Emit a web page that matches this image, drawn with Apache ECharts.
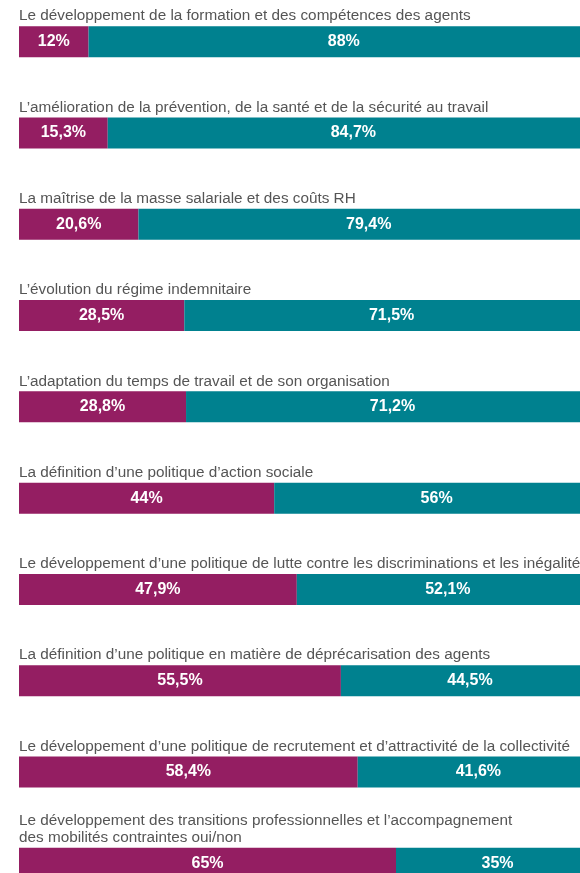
<!DOCTYPE html>
<html>
<head>
<meta charset="utf-8">
<style>
  html, body { margin: 0; padding: 0; background: #fff; }
  #chart { width: 580px; height: 873px; }
</style>
<script src="https://cdn.jsdelivr.net/npm/echarts@6/dist/echarts.min.js"></script>
</head>
<body>
<div id="chart"></div>
<script>
// thèmes (titres au-dessus de chaque barre)
var themes = [
  'Le développement de la formation et des compétences des agents',
  'L\u2019amélioration de la prévention, de la santé et de la sécurité au travail',
  'La maîtrise de la masse salariale et des coûts RH',
  'L\u2019évolution du régime indemnitaire',
  'L\u2019adaptation du temps de travail et de son organisation',
  'La définition d\u2019une politique d\u2019action sociale',
  'Le développement d\u2019une politique de lutte contre les discriminations et les inégalités',
  'La définition d\u2019une politique en matière de déprécarisation des agents',
  'Le développement d\u2019une politique de recrutement et d\u2019attractivité de la collectivité',
  'Le développement des transitions professionnelles et l\u2019accompagnement\ndes mobilités contraintes oui/non'
]
var partA = [12, 15.3, 20.6, 28.5, 28.8, 44, 47.9, 55.5, 58.4, 65]
var partB = [88, 84.7, 79.4, 71.5, 71.2, 56, 52.1, 44.5, 41.6, 35]

var chart = echarts.init(document.getElementById('chart'))

function pct(p) {
  return String(p.value).replace('.', ',') + '%'
}

var barLabel = {
  show: true,
  position: 'inside',
  color: '#fff',
  fontWeight: 'bold',
  fontSize: 16,
  fontFamily: "'Liberation Sans Narrow', 'Arial Narrow', 'Liberation Sans', Arial, sans-serif",
  formatter: pct
}

chart.setOption({
  animation: false,
  grid: {
    left: 19,
    top: -4,
    width: 580,
    height: 913,
    containLabel: false,
    outerBoundsMode: 'none'
  },
  xAxis: {
    type: 'value',
    min: 0,
    max: 100,
    show: false
  },
  yAxis: {
    type: 'category',
    inverse: true,
    data: themes,
    axisLine: { show: false },
    axisTick: { show: false },
    splitLine: { show: false },
    axisLabel: {
      inside: true,
      interval: 0,
      margin: 0,
      color: '#555',
      fontSize: 15.3,
      lineHeight: 17,
      fontFamily: "'Liberation Sans', Arial, sans-serif",
      verticalAlign: 'bottom',
      align: 'left',
      padding: [0, 0, 17, 0]
    }
  },
  series: [
    {
      type: 'bar',
      stack: 'total',
      data: partA,
      barWidth: 31,
      itemStyle: { color: '#941e62' },
      label: barLabel
    },
    {
      type: 'bar',
      stack: 'total',
      data: partB,
      barWidth: 31,
      itemStyle: { color: '#00818f' },
      label: barLabel
    }
  ]
})
</script>
</body>
</html>
